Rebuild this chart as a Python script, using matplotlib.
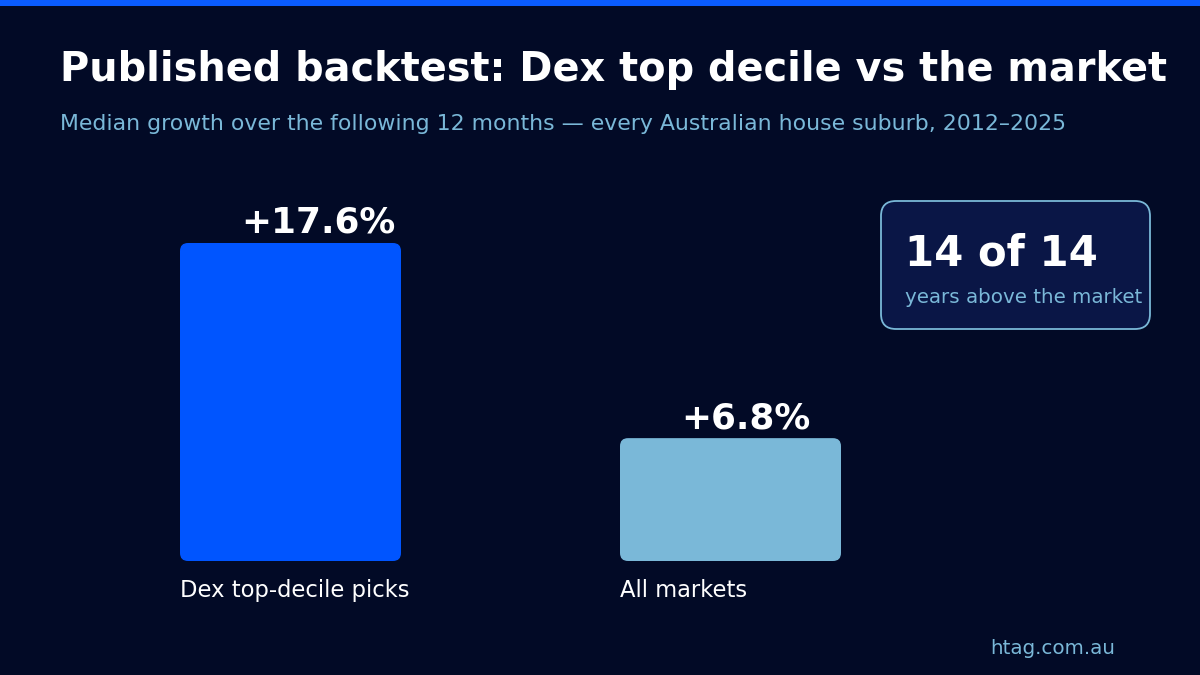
import matplotlib.pyplot as plt
from matplotlib.patches import FancyBboxPatch, Rectangle

plt.rcParams['font.family'] = ['DejaVu Sans']

categories = ['Dex top-decile picks', 'All markets']
growth = [17.6, 6.8]
value_labels = ['+17.6%', '+6.8%']
bar_colors = ['#0055ff', '#7ab8d8']

title = 'Published backtest: Dex top decile vs the market'
subtitle = 'Median growth over the following 12 months \u2014 every Australian house suburb, 2012\u20132025'
callout_big = '14 of 14'
callout_small = 'years above the market'
source = 'htag.com.au'

BG = '#020a26'
LIGHT = '#7ab8d8'
W, H = 1200, 675

fig = plt.figure(figsize=(12, 6.75), dpi=100, facecolor=BG)


def fx(px):
    return px / W


def fy(py):
    return 1 - py / H


# blue stripe along the top
fig.patches.append(Rectangle((0, fy(6)), 1, 6 / H, transform=fig.transFigure,
                             facecolor='#0a5cff', edgecolor='none'))

# axes covers whole width, baseline at y=561px
ax = fig.add_axes([0, fy(561), 1, 561 / H])
ax.set_facecolor('none')
ax.axis('off')
px_per_x = 440.0
px_per_y = 318 / 17.6
c0 = 290.5
ax.set_xlim((0 - c0) / px_per_x, (W - c0) / px_per_x)
ax.set_ylim(0, 561 / px_per_y)

bw = 221 / px_per_x
r = 8 / px_per_x
for i, (v, col) in enumerate(zip(growth, bar_colors)):
    left = i - bw / 2
    ax.add_patch(FancyBboxPatch((left, 0), bw, v,
                                boxstyle=f'round,pad=0,rounding_size={r}',
                                mutation_aspect=px_per_x / px_per_y,
                                facecolor=col, edgecolor='none'))
    ax.text(left + 61 / px_per_x, v + 10 / px_per_y, value_labels[i],
            color='white', fontsize=25.8, fontweight='bold', ha='left', va='baseline')
    ax.text(left, -36 / px_per_y, categories[i], color='white', fontsize=16.3,
            ha='left', va='baseline')

fig.text(fx(60), fy(81), title, color='white', fontsize=28.7, fontweight='bold',
         ha='left', va='baseline')
fig.text(fx(60), fy(130), subtitle, color=LIGHT, fontsize=15.8, ha='left', va='baseline')

# callout box
fig.patches.append(FancyBboxPatch((fx(881), fy(329)), 269 / W, 128 / H,
                                  boxstyle='round,pad=0,rounding_size=0.0125',
                                  mutation_aspect=W / H,
                                  transform=fig.transFigure,
                                  facecolor='#0a1646', edgecolor=LIGHT, linewidth=1.3))
fig.text(fx(905), fy(265), callout_big, color='white', fontsize=30.2, fontweight='bold',
         ha='left', va='baseline')
fig.text(fx(905), fy(303), callout_small, color=LIGHT, fontsize=14.3, ha='left', va='baseline')

fig.text(fx(990), fy(654), source, color=LIGHT, fontsize=14.3, ha='left', va='baseline')

fig.savefig('out.png', dpi=100, facecolor=BG)
